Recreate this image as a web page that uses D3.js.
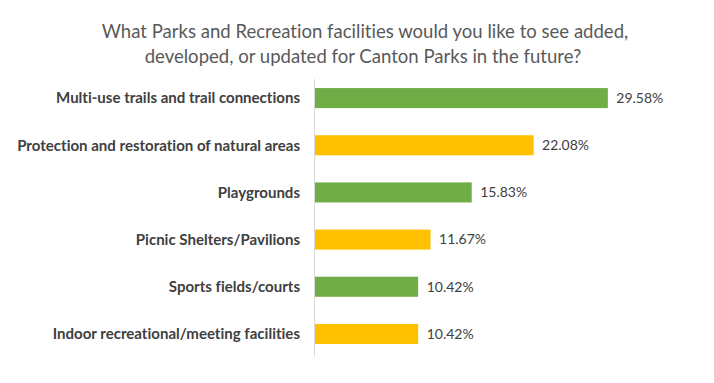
<!DOCTYPE html>
<html>
<head>
<meta charset="utf-8">
<script src="https://cdn.jsdelivr.net/npm/d3@7"></script>
<style>
  html, body { margin: 0; padding: 0; background: #fff; }
  svg { display: block; }
  text { font-family: Lato, "Open Sans", sans-serif; font-variant-ligatures: none; font-feature-settings: "liga" 0; }
</style>
</head>
<body>
<svg id="chart" width="714" height="383"></svg>
<script>
const titleLines = [
  "What Parks and Recreation facilities would you like to see added,",
  "developed, or updated for Canton Parks in the future?"
];
const categories = [
  "Multi-use trails and trail connections",
  "Protection and restoration of natural areas",
  "Playgrounds",
  "Picnic Shelters/Pavilions",
  "Sports fields/courts",
  "Indoor recreational/meeting facilities"
];
const values = [29.58, 22.08, 15.83, 11.67, 10.42, 10.42];
const valueLabels = ["29.58%", "22.08%", "15.83%", "11.67%", "10.42%", "10.42%"];
const barColors = ["#70AD47", "#FFC000", "#70AD47", "#FFC000", "#70AD47", "#FFC000"];

const svg = d3.select("#chart");

function fitSize(sel, target, base) {
  sel.attr("font-size", base);
  const w = sel.node().getComputedTextLength();
  const s = base * target / w;
  sel.attr("font-size", s);
  return s;
}

// Title
const t1 = svg.append("text").attr("x", 365).attr("y", 38)
  .attr("text-anchor", "middle").attr("fill", "#595959").text(titleLines[0]);
const ts = fitSize(t1, 527, 20);
svg.append("text").attr("x", 363).attr("y", 63)
  .attr("text-anchor", "middle").attr("fill", "#595959")
  .attr("font-size", ts).text(titleLines[1]);

const x = d3.scaleLinear().domain([0, 30]).range([315, 612]);
const y = d3.scaleBand().domain(categories).range([74.5, 357.5]).paddingInner(0.575).paddingOuter(0.2875);

// axis line
svg.append("line").attr("x1", 314.5).attr("x2", 314.5).attr("y1", 79).attr("y2", 357)
  .attr("stroke", "#d9d9d9").attr("stroke-width", 1);

// bars
svg.selectAll("rect.bar").data(categories).join("rect")
  .attr("class", "bar")
  .attr("x", x(0))
  .attr("y", d => y(d))
  .attr("width", (d, i) => x(values[i]) - x(0))
  .attr("height", y.bandwidth())
  .attr("fill", (d, i) => barColors[i]);

// category labels
const catText = svg.append("g").selectAll("text").data(categories).join("text")
  .attr("x", 300)
  .attr("y", d => y(d) + y.bandwidth() / 2)
  .attr("dy", "0.35em")
  .attr("text-anchor", "end")
  .attr("font-weight", "bold")
  .attr("fill", "#404040")
  .text(d => d);
const cs = fitSize(catText.filter((d, i) => i === 1), 283, 14);
catText.attr("font-size", cs);

// value labels
const valText = svg.selectAll("text.val").data(categories).join("text")
  .attr("class", "val")
  .attr("x", (d, i) => x(values[i]) + 8.5)
  .attr("y", d => y(d) + y.bandwidth() / 2)
  .attr("dy", "0.35em")
  .attr("fill", "#404040")
  .text((d, i) => valueLabels[i]);
const vs = fitSize(valText.filter((d, i) => i === 0), 47, 14);
valText.attr("font-size", vs);
</script>
</body>
</html>
